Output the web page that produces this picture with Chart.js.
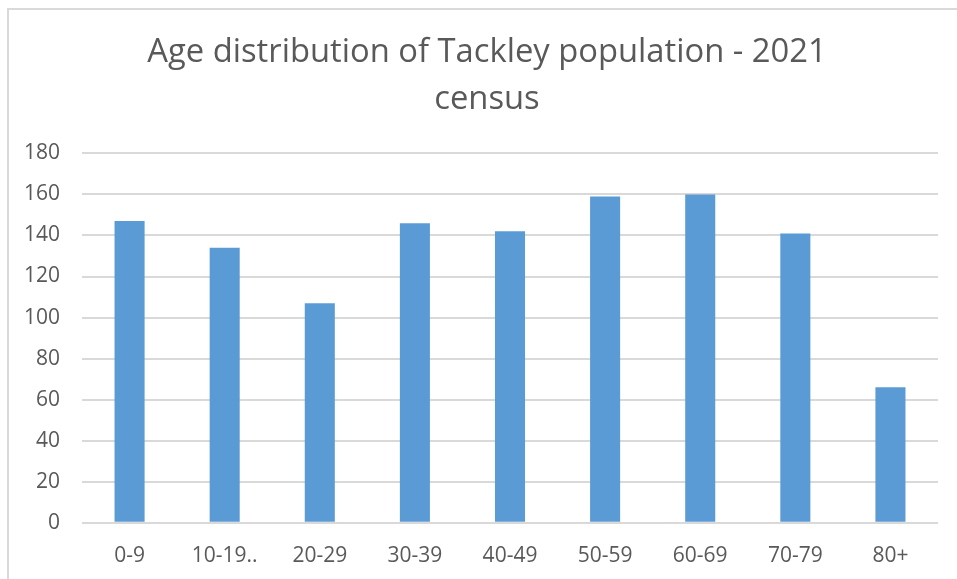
<!DOCTYPE html>
<html>
<head>
<meta charset="utf-8">
<script src="https://cdn.jsdelivr.net/npm/chart.js@4.4.1/dist/chart.umd.min.js"></script>
<style>
  html, body { margin: 0; padding: 0; background: #fff; }
  #frame { position: absolute; left: 7px; top: 8px; width: 960px; height: 580px;
           border-left: 2px solid #d9d9d9; border-top: 2px solid #d9d9d9; }
  #wrap { position: absolute; left: 0; top: 0; width: 957px; height: 579px; }
</style>
</head>
<body>
<div id="frame"></div>
<div id="wrap"><canvas id="grafico"></canvas></div>
<script>
// faixas etárias e quantidade de pessoas (censo 2021)
const categorias = ["0-9", "10-19..", "20-29", "30-39", "40-49", "50-59", "60-69", "70-79", "80+"];
const populacao = [147, 134, 107, 146, 142, 159, 160, 141, 66];
const tituloLinhas = ["Age distribution of Tackley population - 2021", "census"];

const corTexto = "#595959";
const corGrade = "#d9d9d9";

Chart.defaults.font.family = "'Open Sans', sans-serif";
Chart.defaults.color = corTexto;

// o título original fica um pouco deslocado para a direita
const deslocaTitulo = {
  id: "deslocaTitulo",
  afterLayout(chart) {
    const t = chart.titleBlock;
    if (t) {
      t.left += 17;
      t.right += 17;
    }
  },
};

new Chart(document.getElementById("grafico"), {
  type: "bar",
  data: {
    labels: categorias,
    datasets: [{
      label: "Population",
      data: populacao,
      backgroundColor: "#5b9bd5",
      barPercentage: 0.316,
      categoryPercentage: 1,
    }],
  },
  options: {
    responsive: true,
    maintainAspectRatio: false,
    animation: false,
    layout: { padding: { left: 2, right: 19, top: 0, bottom: -3 } },
    plugins: {
      legend: { display: false },
      tooltip: { enabled: false },
      title: {
        display: true,
        text: tituloLinhas,
        color: corTexto,
        font: { size: 32.75, weight: "normal", lineHeight: 1.41 },
        padding: { top: 30, bottom: 31 },
      },
    },
    scales: {
      x: {
        grid: { display: false },
        border: { display: false },
        ticks: { font: { size: 21 }, padding: 13 },
      },
      y: {
        min: 0,
        max: 180,
        ticks: { stepSize: 20, font: { size: 21 }, padding: 22 },
        grid: { color: corGrade, lineWidth: 2, drawTicks: false },
        border: { display: false },
      },
    },
  },
  plugins: [deslocaTitulo],
});
</script>
</body>
</html>
